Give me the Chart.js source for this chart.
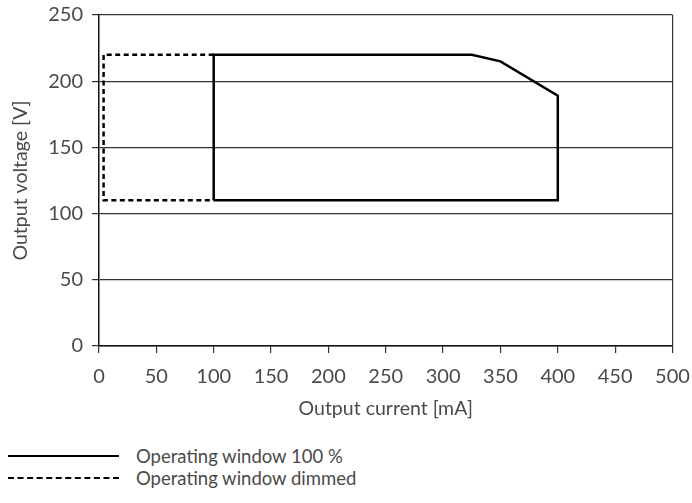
<!DOCTYPE html>
<html>
<head>
<meta charset="utf-8">
<script src="https://cdn.jsdelivr.net/npm/chart.js@4.4.1/dist/chart.umd.min.js"></script>
<style>
    html, body { margin: 0; padding: 0; background: #fff; }
    #wrap { position: relative; width: 692px; height: 503px; font-family: Lato, sans-serif; color: #4a4a4a; }
    #box { position: absolute; left: 0; top: 0; width: 692px; height: 430px; }
    .leg { position: absolute; left: 8px; height: 22px; font-size: 18.5px; }
    .leg .ln { position: absolute; left: 0; width: 111px; top: 10px; height: 0; }
    .leg .tx { position: absolute; left: 128px; top: 0; line-height: 22px; white-space: nowrap; }
</style>
</head>
<body>
<div id="wrap">
    <div id="box"><canvas id="chart"></canvas></div>
    <div class="leg" style="top:445px"><div class="ln" style="border-top:2.5px solid #000"></div><div class="tx">Operating window 100 %</div></div>
    <div class="leg" style="top:467px"><div class="ln" style="border-top:2.5px dashed #000"></div><div class="tx">Operating window dimmed</div></div>
</div>
<script>
// Operating window outlines (mA / V)
const fullCurrent = [100, 100, 325, 350, 400, 400, 100];
const fullVoltage = [110, 220, 220, 215, 189, 110, 110];
const dimCurrent = [100, 4, 4, 100];
const dimVoltage = [220, 220, 110, 110];

const xTicks = [0, 50, 100, 150, 200, 250, 300, 350, 400, 450, 500];
const yTicks = [0, 50, 100, 150, 200, 250];

const toPoints = (xs, ys) => xs.map((x, i) => ({ x: x, y: ys[i] }));

const tickFont = { family: 'Lato', size: 20 };
const titleFont = { family: 'Lato', size: 19.5 };

new Chart(document.getElementById('chart').getContext('2d'), {
    type: 'scatter',
    data: {
        datasets: [
            {
                label: 'Operating window 100 %',
                data: toPoints(fullCurrent, fullVoltage),
                showLine: true,
                borderColor: '#000',
                borderWidth: 2.5,
                pointRadius: 0,
                borderJoinStyle: 'miter'
            },
            {
                label: 'Operating window dimmed',
                data: toPoints(dimCurrent, dimVoltage),
                showLine: true,
                borderColor: '#000',
                borderWidth: 2.5,
                borderDash: [5, 3.5],
                pointRadius: 0
            }
        ]
    },
    options: {
        responsive: true,
        maintainAspectRatio: false,
        animation: false,
        layout: { padding: { left: 0, top: 15, right: 19.5, bottom: 0 } },
        plugins: {
            legend: { display: false },
            tooltip: { enabled: false }
        },
        scales: {
            x: {
                type: 'linear',
                min: 0,
                max: 500,
                afterBuildTicks: s => { s.ticks = xTicks.map(v => ({ value: v })); },
                afterFit: s => { s.height = 84; s.paddingLeft = 0; s.paddingRight = 0; },
                ticks: { color: '#4a4a4a', font: tickFont, padding: 11.5, maxRotation: 0 },
                grid: {
                    color: c => (c.tick && c.tick.value === 500) ? '#333' : 'transparent',
                    tickColor: '#333',
                    tickLength: 7,
                    lineWidth: 1.2
                },
                border: { color: '#111', width: 1.5 },
                title: { display: true, text: 'Output current [mA]', color: '#4a4a4a', font: titleFont, padding: { top: 0, bottom: 9.3 } }
            },
            y: {
                type: 'linear',
                min: 0,
                max: 250,
                afterBuildTicks: s => { s.ticks = yTicks.map(v => ({ value: v })); },
                afterFit: s => { s.width = 99; s.paddingTop = 0; s.paddingBottom = 0; },
                ticks: { color: '#4a4a4a', font: tickFont, padding: 9 },
                grid: {
                    color: '#333',
                    tickColor: '#333',
                    tickLength: 7,
                    lineWidth: 1.2
                },
                border: { color: '#111', width: 1.5 },
                title: { display: true, text: 'Output voltage [V]', color: '#4a4a4a', font: titleFont, padding: { top: 9.3, bottom: 0 } }
            }
        }
    }
});
</script>
</body>
</html>
